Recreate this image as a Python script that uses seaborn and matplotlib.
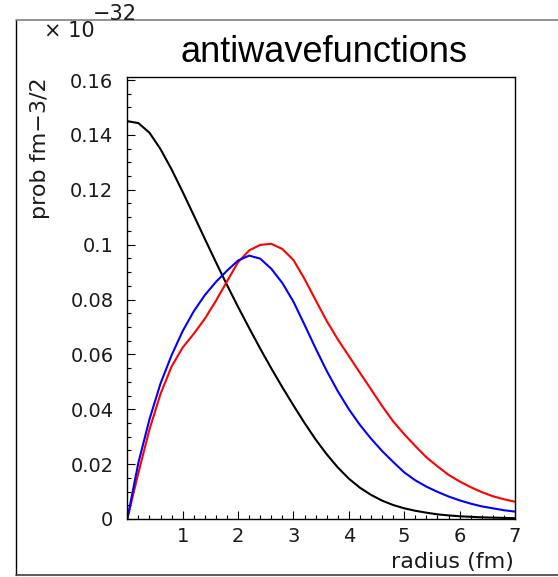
import numpy as np
import pandas as pd
import matplotlib
matplotlib.use("Agg")
import matplotlib.pyplot as plt
import seaborn as sns
from matplotlib.lines import Line2D
from matplotlib.ticker import MultipleLocator, FuncFormatter

# ---- data (units of 1e-32) ----
radius = [0.0, 0.2, 0.4, 0.6, 0.8, 1.0, 1.2, 1.4, 1.6, 1.8, 2.0, 2.2, 2.4,
          2.6, 2.8, 3.0, 3.2, 3.4, 3.6, 3.8, 4.0, 4.2, 4.4, 4.6, 4.8, 5.0,
          5.2, 5.4, 5.6, 5.8, 6.0, 6.2, 6.4, 6.6, 6.8, 7.0]
black_curve = [0.1450, 0.1443, 0.1408, 0.1348, 0.1274, 0.1192, 0.1107, 0.1021,
               0.0936, 0.0853, 0.0773, 0.0696, 0.0621, 0.0549, 0.0480, 0.0414,
               0.0350, 0.0290, 0.0236, 0.0188, 0.0147, 0.0114, 0.0088, 0.0067,
               0.0051, 0.0039, 0.0030, 0.0023, 0.0017, 0.0013, 0.0010, 0.0008,
               0.0006, 0.0005, 0.0004, 0.0003]
red_curve = [0.0, 0.0168, 0.0326, 0.0456, 0.0556, 0.0625, 0.0675, 0.0730,
             0.0795, 0.0866, 0.0936, 0.0979, 0.0999, 0.1003, 0.0984, 0.0944,
             0.0875, 0.0798, 0.0722, 0.0655, 0.0594, 0.0533, 0.0473, 0.0412,
             0.0356, 0.0309, 0.0266, 0.0225, 0.0192, 0.0161, 0.0137, 0.0116,
             0.0098, 0.0083, 0.0072, 0.0063]
blue_curve = [0.0, 0.0205, 0.0363, 0.0494, 0.0597, 0.0685, 0.0757, 0.0816,
              0.0864, 0.0905, 0.0942, 0.0960, 0.0949, 0.0912, 0.0860, 0.0792,
              0.0708, 0.0622, 0.0540, 0.0466, 0.0400, 0.0343, 0.0293, 0.0248,
              0.0208, 0.0170, 0.0141, 0.0118, 0.0099, 0.0082, 0.0068, 0.0056,
              0.0046, 0.0039, 0.0032, 0.0027]
series_names = ["black", "red", "blue"]
series_colors = {"black": "#000000", "red": "#ff0000", "blue": "#0000ff"}

title_text = "antiwavefunctions"
xlabel_text = "radius (fm)"
ylabel_text = "prob fm\u22123/2"
xtick_values = [0, 1, 2, 3, 4, 5, 6, 7]
ytick_values = [0, 0.02, 0.04, 0.06, 0.08, 0.1, 0.12, 0.14, 0.16]

df = pd.concat([
    pd.DataFrame({"radius": radius, "prob": vals, "curve": name})
    for name, vals in zip(series_names, [black_curve, red_curve, blue_curve])
], ignore_index=True)

# ---- figure ----
sns.set_theme(style="ticks")
plt.rcParams["font.family"] = ["DejaVu Sans"]

W, H = 558, 577
fig = plt.figure(figsize=(W / 100, H / 100), dpi=100)
fig.patch.set_facecolor("white")

def fx(px):
    return px / W

def fy(py):
    return 1 - py / H

ax = fig.add_axes([fx(127.3), fy(519), fx(515) - fx(127.3), fy(77) - fy(519)])
ax.set_facecolor("white")

sns.lineplot(data=df, x="radius", y="prob", hue="curve", hue_order=series_names,
             palette=series_colors, linewidth=1.5, legend=False, ax=ax,
             sort=False, estimator=None)

ax.set_xlim(0, 7)
ax.set_ylim(0, 0.1611)
ax.set_xlabel("")
ax.set_ylabel("")

for s in ax.spines.values():
    s.set_visible(True)
    s.set_color("black")
    s.set_linewidth(1.0)

ax.set_xticks(xtick_values)
ax.set_xticklabels(["" if v == 0 else f"{v:g}" for v in xtick_values])
ax.xaxis.set_minor_locator(MultipleLocator(0.2))
ax.set_yticks(ytick_values)
ax.yaxis.set_major_formatter(FuncFormatter(lambda v, p: f"{round(v, 4):g}"))
ax.yaxis.set_minor_locator(MultipleLocator(0.005))

ax.tick_params(axis="both", which="major", direction="in", length=6, width=0.8,
               color="black", labelsize=14, labelcolor="#1a1a1a")
ax.tick_params(axis="both", which="minor", direction="in", length=3, width=0.8,
               color="black")
ax.tick_params(axis="x", which="major", pad=6)
ax.tick_params(axis="y", which="major", pad=10)
ax.tick_params(top=False, right=False, which="both")

# title
fig.text(fx(324), fy(61.7), title_text, ha="center", va="baseline",
         fontsize=26, family=["Liberation Sans", "DejaVu Sans"], color="black")

# axis titles
fig.text(fx(514), fy(568), xlabel_text, ha="right", va="baseline",
         fontsize=16, color="#1a1a1a")
fig.text(fx(46), fy(77), ylabel_text, ha="right", va="baseline", rotation=90,
         rotation_mode="anchor", fontsize=16, color="#1a1a1a")

# exponent
fig.text(fx(44), fy(37), "\u00d7 10", ha="left", va="baseline",
         fontsize=15, color="#1a1a1a")
fig.text(fx(93), fy(20), "\u221232", ha="left", va="baseline",
         fontsize=15, color="#1a1a1a")

# outer pad frame
fig.add_artist(Line2D([fx(16), fx(16)], [fy(20), fy(575)], color="black", lw=1.0))
fig.add_artist(Line2D([fx(16), 1.0], [fy(20), fy(20)], color="#808080", lw=1.2))
fig.add_artist(Line2D([fx(16), 1.0], [fy(575), fy(575)], color="#404040", lw=1.2))

fig.savefig("out.png", dpi=100, facecolor="white")
